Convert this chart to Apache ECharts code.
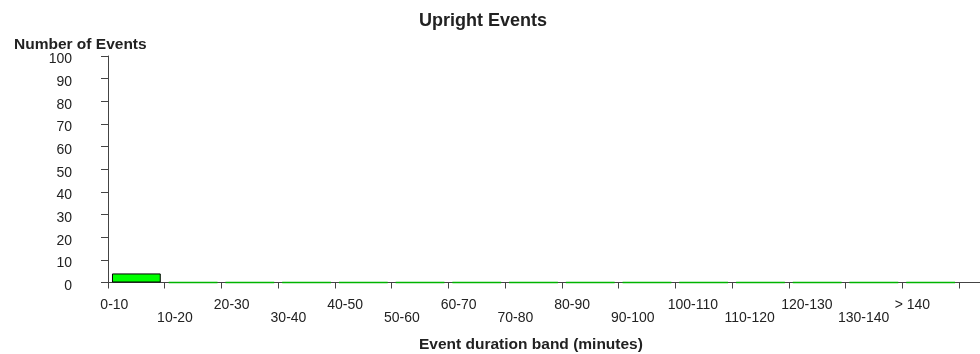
<!DOCTYPE html>
<html>
<head>
<meta charset="utf-8">
<script src="https://cdn.jsdelivr.net/npm/echarts@6/dist/echarts.min.js"></script>
<style>
  html, body { margin: 0; padding: 0; background: #ffffff; }
  #chart { width: 980px; height: 354px; }
</style>
</head>
<body>
<div id="chart"></div>
<script>
// Duration bands (minutes) and how many upright events fell in each
const categories = ['0-10', '10-20', '20-30', '30-40', '40-50', '50-60', '60-70', '70-80',
                    '80-90', '90-100', '100-110', '110-120', '120-130', '130-140', '> 140'];
const eventCounts = [4, 0, 0, 0, 0, 0, 0, 0, 0, 0, 0, 0, 0, 0, 0];

// Value axis range
const yMin = 0;
const yMax = 100;
const yStep = 10;

const chartTitle = 'Upright Events';
const yAxisTitle = 'Number of Events';
const xAxisTitle = 'Event duration band (minutes)';

const FONT = '"Liberation Sans", Arial, Helvetica, sans-serif';
const LINE = '#444444';
const TEXT = '#222222';

const chart = echarts.init(document.getElementById('chart'), null, { renderer: 'canvas' });

// Empty bands are drawn as a thin green strip on the baseline
const barData = eventCounts.map(v => ({
  value: v,
  itemStyle: v === 0
    ? { color: '#00dd00', borderColor: '#00b400', borderWidth: 1.5 }
    : { color: '#00ff00', borderColor: '#000000', borderWidth: 1 }
}));

chart.setOption({
  animation: false,
  backgroundColor: '#ffffff',
  textStyle: { fontFamily: FONT },
  title: [
    {
      text: chartTitle,
      left: 414, top: 7,
      textStyle: { fontFamily: FONT, fontSize: 18, fontWeight: 'bold', color: TEXT }
    },
    {
      text: yAxisTitle,
      left: 9, top: 32,
      textStyle: { fontFamily: FONT, fontSize: 15.5, fontWeight: 'bold', color: TEXT }
    },
    {
      text: xAxisTitle,
      left: 414, top: 332,
      textStyle: { fontFamily: FONT, fontSize: 15.5, fontWeight: 'bold', color: TEXT }
    }
  ],
  grid: [
    { left: 108, right: 21, top: 56, bottom: 71.5, containLabel: false },
    // baseline continues to the right edge of the canvas
    { left: 108, right: 0, top: 56, bottom: 71.5, containLabel: false }
  ],
  xAxis: [
    {
      type: 'category',
      gridIndex: 0,
      data: categories,
      boundaryGap: true,
      axisLine: { show: true, lineStyle: { color: LINE, width: 1 } },
      axisTick: { show: true, interval: 0, length: 6, lineStyle: { color: LINE } },
      axisLabel: {
        interval: 0,
        margin: 16.5,
        color: TEXT,
        fontFamily: FONT,
        fontSize: 14,
        formatter: (v, i) => (i % 2 === 0 ? '{a|' + v + '}' : '{b|' + v + '}'),
        rich: {
          a: { width: 72, align: 'left', lineHeight: 12.5, fontSize: 14, color: TEXT, fontFamily: FONT },
          b: { width: 72, align: 'left', lineHeight: 37.5, fontSize: 14, color: TEXT, fontFamily: FONT }
        }
      },
      splitLine: { show: false }
    },
    {
      type: 'value',
      gridIndex: 1,
      min: 0, max: 1,
      axisLine: { show: true, onZero: false, lineStyle: { color: LINE, width: 1 } },
      axisTick: { show: false },
      axisLabel: { show: false },
      splitLine: { show: false }
    }
  ],
  yAxis: [
    {
      type: 'value',
      gridIndex: 0,
      min: yMin, max: yMax, interval: yStep,
      axisLine: { show: true, lineStyle: { color: LINE, width: 1 } },
      axisTick: { show: true, length: 7, lineStyle: { color: LINE } },
      axisLabel: {
        margin: 36,
        color: TEXT,
        fontFamily: FONT,
        fontSize: 14,
        formatter: v => '{v|' + v + '}',
        rich: {
          v: { fontSize: 14, color: TEXT, fontFamily: FONT, padding: [7, 0, 0, 0] }
        }
      },
      splitLine: { show: false }
    },
    {
      type: 'value',
      gridIndex: 1,
      show: false,
      min: 0, max: 1
    }
  ],
  series: [
    {
      type: 'bar',
      xAxisIndex: 0,
      yAxisIndex: 0,
      data: barData,
      barCategoryGap: '14%',
      z: 5
    }
  ]
});
</script>
</body>
</html>
